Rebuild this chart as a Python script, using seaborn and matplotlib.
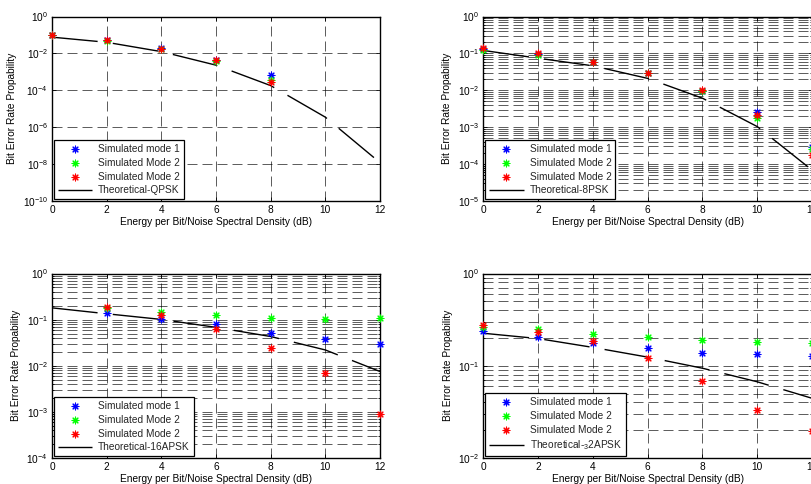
import matplotlib
matplotlib.use("Agg")
import matplotlib.pyplot as plt
import seaborn as sns
from matplotlib.ticker import FixedLocator, LogLocator, NullLocator, LogFormatterSciNotation, NullFormatter

# ---------------- data ----------------
ebno = [0, 2, 4, 6, 8, 10, 12]
xticks = [0, 2, 4, 6, 8, 10, 12]
labels_sim = ["Simulated mode 1", "Simulated Mode 2", "Simulated Mode 2"]

qpsk_x = [0, 2, 4, 6, 8]
qpsk_mode1 = [0.100, 0.052, 0.020, 0.0045, 7.0e-4]
qpsk_mode2a = [0.098, 0.050, 0.018, 0.0038, 3.4e-4]
qpsk_mode2b = [0.100, 0.052, 0.018, 0.0045, 2.7e-4]
qpsk_theory = [0.076, 0.040, 0.0125, 0.0023, 1.8e-4, 3.5e-6, 1.2e-8]

psk8_x = [0, 2, 4, 6, 8, 10, 12]
psk8_mode1 = [0.135, 0.098, 0.060, 0.0295, 0.0093, 0.0026, 2.9e-4]
psk8_mode2a = [0.126, 0.092, 0.058, 0.029, 0.0098, 0.0018, 2.5e-4]
psk8_mode2b = [0.139, 0.102, 0.060, 0.0295, 0.0104, 0.0022, 1.75e-4]
psk8_theory = [0.12, 0.074, 0.046, 0.021, 0.0061, 0.00104, 6.9e-5]

apsk16_x = [2, 4, 6, 8, 10, 12]
apsk16_mode1 = [0.141, 0.101, 0.079, 0.052, 0.038, 0.029]
apsk16_mode2a = [0.175, 0.148, 0.126, 0.110, 0.103, 0.106]
apsk16_mode2b = [0.190, 0.126, 0.063, 0.0248, 0.0069, 9.1e-4]
apsk16_theory = [0.18, 0.134, 0.101, 0.068, 0.043, 0.022, 0.0075]

apsk32_x = [0, 2, 4, 6, 8, 10, 12]
apsk32_mode1 = [0.240, 0.207, 0.178, 0.155, 0.139, 0.133, 0.129]
apsk32_mode2a = [0.265, 0.248, 0.221, 0.203, 0.190, 0.181, 0.175]
apsk32_mode2b = [0.276, 0.234, 0.187, 0.120, 0.069, 0.0333, 0.0195]
apsk32_theory = [0.225, 0.197, 0.158, 0.124, 0.094, 0.067, 0.0444]

# ---------------- style ----------------
sns.set_theme(style="white")
plt.rcParams["font.family"] = ["Liberation Sans", "DejaVu Sans"]
plt.rcParams["mathtext.fontset"] = "custom"
plt.rcParams["mathtext.rm"] = "Liberation Sans"
plt.rcParams["mathtext.it"] = "Liberation Sans:italic"
plt.rcParams["mathtext.bf"] = "Liberation Sans:bold"

FS = 7.3
sim_colors = ["#0000ff", "#00ff00", "#ff0000"]

fig = plt.figure(figsize=(8.11, 4.84), dpi=100)
W, H = 811.0, 484.0


def make_axes(left, top, right, bottom):
    return fig.add_axes([left / W, 1 - bottom / H, (right - left) / W, (bottom - top) / H])


panels = [
    dict(box=(52, 16.5, 380, 201), x=qpsk_x, sims=[qpsk_mode1, qpsk_mode2a, qpsk_mode2b],
         theory=qpsk_theory, tlabel="Theoretical-QPSK", ylim=(1e-10, 1),
         majors=[1e0, 1e-2, 1e-4, 1e-6, 1e-8, 1e-10], minor=False),
    dict(box=(483.5, 16.5, 812, 201), x=psk8_x, sims=[psk8_mode1, psk8_mode2a, psk8_mode2b],
         theory=psk8_theory, tlabel="Theoretical-8PSK", ylim=(1e-5, 1),
         majors=[1e0, 1e-1, 1e-2, 1e-3, 1e-4, 1e-5], minor=True),
    dict(box=(52, 273.5, 380, 458), x=apsk16_x, sims=[apsk16_mode1, apsk16_mode2a, apsk16_mode2b],
         theory=apsk16_theory, tlabel="Theoretical-16APSK", ylim=(1e-4, 1),
         majors=[1e0, 1e-1, 1e-2, 1e-3, 1e-4], minor=True),
    dict(box=(483.5, 273.5, 812, 458), x=apsk32_x, sims=[apsk32_mode1, apsk32_mode2a, apsk32_mode2b],
         theory=apsk32_theory, tlabel=r"Theoretical-$\mathregular{{}_{3}}$2APSK", ylim=(1e-2, 1),
         majors=[1e0, 1e-1, 1e-2], minor=True),
]

grid_ls = (0, (16, 8))

for p in panels:
    ax = make_axes(*p["box"])
    ax.set_yscale("log")
    ax.set_xlim(0, 12)
    ax.set_ylim(*p["ylim"])

    for ys, c, lab in zip(p["sims"], sim_colors, labels_sim):
        sns.scatterplot(x=p["x"], y=ys, ax=ax, marker=(8, 2, 0), color=c, s=24,
                        linewidth=0.8, label=lab, zorder=4, clip_on=False)
    sns.lineplot(x=ebno, y=p["theory"], ax=ax, color="black", linewidth=1.0,
                 linestyle=(0, (33, 11)), label=p["tlabel"], zorder=3)

    ax.xaxis.set_major_locator(FixedLocator(xticks))
    ax.yaxis.set_major_locator(FixedLocator(p["majors"]))
    ax.yaxis.set_major_formatter(LogFormatterSciNotation())
    if p["minor"]:
        ax.yaxis.set_minor_locator(LogLocator(base=10, subs=range(2, 10), numticks=100))
    else:
        ax.yaxis.set_minor_locator(NullLocator())
    ax.yaxis.set_minor_formatter(NullFormatter())

    ax.grid(True, which="major", axis="both", color="black", linewidth=0.45, linestyle=grid_ls)
    if p["minor"]:
        ax.grid(True, which="minor", axis="y", color="black", linewidth=0.45, linestyle=grid_ls)
    ax.set_axisbelow(True)

    ax.tick_params(axis="both", which="both", direction="in", top=True, right=True,
                   bottom=True, left=True, colors="black", labelsize=FS, width=0.6)
    ax.tick_params(axis="both", which="major", length=3, pad=3)
    ax.tick_params(axis="both", which="minor", length=1.5)
    for sp in ax.spines.values():
        sp.set_color("black")
        sp.set_linewidth(1.0)
        sp.set_visible(True)

    ax.set_xlabel("Energy per Bit/Noise Spectral Density (dB)", fontsize=FS, labelpad=1.5, color="black")
    ax.set_ylabel("Bit Error Rate Propability", fontsize=FS, labelpad=4, color="black")

    h, l = ax.get_legend_handles_labels()
    leg = ax.legend(h, l, loc="lower left", frameon=True, fancybox=False, edgecolor="black",
                    framealpha=1, fontsize=FS, borderaxespad=0.15, handlelength=3.4,
                    handletextpad=0.6, labelspacing=0.38, borderpad=0.4, scatterpoints=1)
    leg.get_frame().set_linewidth(0.9)
    leg.set_zorder(10)

fig.savefig("out.png", dpi=100)
